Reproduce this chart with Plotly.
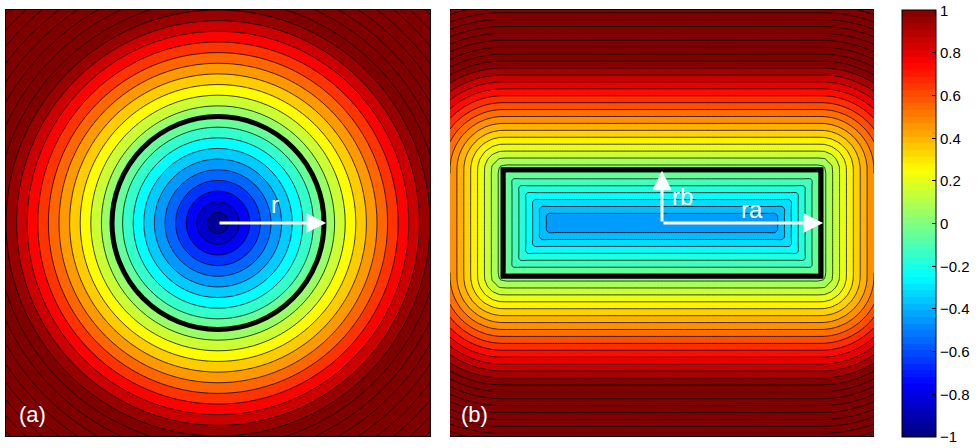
import numpy as np
import plotly.graph_objects as go

# ---------------- data / parameters (panel units span [-1, 1]) ----------------
grid_n = 61
circle_center = [0.0, 0.0]
circle_radius = 0.5
rect_half_a = 0.75   # ra
rect_half_b = 0.25   # rb
field_scale = 2.0

levels_a = [-0.9, 1.8, 0.1]      # start, end, step
levels_b = [-0.41, 1.6, 0.065]

cbar_tickvals = [-1, -0.8, -0.6, -0.4, -0.2, 0, 0.2, 0.4, 0.6, 0.8, 1]
cbar_ticktext = ["\u22121", "\u22120.8", "\u22120.6", "\u22120.4", "\u22120.2", "0",
                 "0.2", "0.4", "0.6", "0.8", "1"]
panel_labels = ["(a)", "(b)"]
arrow_labels = ["r", "rb", "ra"]

W, H = 979, 448
CB_LEFT, CB_W, CB_TOP, CB_BOT = 902, 34, 10, 437


def jet(t):
    t = float(np.clip(t, 0, 1))
    r = np.clip(1.5 - abs(4 * t - 3), 0, 1)
    g = np.clip(1.5 - abs(4 * t - 2), 0, 1)
    b = np.clip(1.5 - abs(4 * t - 1), 0, 1)
    return "rgb(%d,%d,%d)" % (round(r * 255), round(g * 255), round(b * 255))


def fill_colorscale(start, end, step, k=201):
    nc = int(np.floor((end - start) / step + 1e-6)) + 1
    lo = start - step / 2
    hi = start + (nc - 0.5) * step
    return [[s, jet((lo + s * (hi - lo) + 1) / 2)] for s in np.linspace(0, 1, k)]


xs = np.linspace(-1, 1, grid_n)
ys = np.linspace(-1, 1, grid_n)
X, Y = np.meshgrid(xs, ys)

# panel (a): circle signed distance
Ra = np.sqrt((X - circle_center[0]) ** 2 + (Y - circle_center[1]) ** 2)
Za = field_scale * (Ra - circle_radius)

# panel (b): rectangle signed distance
qx = np.abs(X) - rect_half_a
qy = np.abs(Y) - rect_half_b
outside = np.sqrt(np.maximum(qx, 0) ** 2 + np.maximum(qy, 0) ** 2)
inside = np.minimum(np.maximum(qx, qy), 0)
Zb = field_scale * (outside + inside)

fig = go.Figure()

fig.add_trace(go.Contour(
    x=xs, y=ys, z=Za, xaxis="x", yaxis="y",
    autocontour=False,
    contours=dict(start=levels_a[0], end=levels_a[1], size=levels_a[2],
                  coloring="fill", showlines=True),
    colorscale=fill_colorscale(*levels_a),
    line=dict(color="black", width=0.75, smoothing=1),
    showscale=False, hoverinfo="skip",
))

fig.add_trace(go.Contour(
    x=xs, y=ys, z=Zb, xaxis="x2", yaxis="y2",
    autocontour=False,
    contours=dict(start=levels_b[0], end=levels_b[1], size=levels_b[2],
                  coloring="fill", showlines=True),
    colorscale=fill_colorscale(*levels_b),
    line=dict(color="black", width=0.75, smoothing=0.6),
    showscale=False, hoverinfo="skip",
))

# colorbar: discrete 64-step jet
ncol = 64
cb_scale = []
for i in range(ncol):
    c = jet((i + 0.5) / ncol)
    cb_scale.append([i / ncol, c])
    cb_scale.append([(i + 1) / ncol, c])

fig.add_trace(go.Scatter(
    x=[0], y=[0], xaxis="x2", yaxis="y2", mode="markers",
    marker=dict(size=0.1, opacity=0, color=[0], cmin=-1, cmax=1,
                colorscale=cb_scale, showscale=True,
                colorbar=dict(
                    x=CB_LEFT / W, xanchor="left", xpad=0,
                    y=1 - CB_TOP / H, yanchor="top", ypad=0,
                    len=(CB_BOT - CB_TOP) / H, lenmode="fraction",
                    thickness=CB_W, thicknessmode="pixels",
                    tickvals=cbar_tickvals, showticklabels=False,
                    ticks="inside", ticklen=4, tickcolor="black",
                    outlinecolor="black", outlinewidth=1,
                )),
    hoverinfo="skip", showlegend=False,
))

axis_common = dict(range=[-1, 1], showticklabels=False, ticks="", showgrid=False,
                   zeroline=False, showline=True, mirror=True, linecolor="black",
                   linewidth=1)

ydom = [1 - 436 / H, 1 - 10 / H]
fig.update_layout(
    width=W, height=H,
    margin=dict(l=0, r=0, t=0, b=0, autoexpand=False),
    paper_bgcolor="white", plot_bgcolor="white",
    showlegend=False,
    xaxis=dict(domain=[6 / W, 430 / W], **axis_common),
    yaxis=dict(domain=ydom, **axis_common),
    xaxis2=dict(domain=[450 / W, 874 / W], **axis_common),
    yaxis2=dict(domain=ydom, **axis_common),
)

# colorbar tick labels placed precisely, plus left-side tick marks
for v, t in zip(cbar_tickvals, cbar_ticktext):
    ypix = CB_BOT - (v + 1) / 2 * (CB_BOT - CB_TOP)
    ylab = min(ypix, CB_BOT - 1)
    fig.add_annotation(x=(CB_LEFT + CB_W + 3) / W, y=1 - ylab / H, xref="paper", yref="paper",
                       xanchor="left", yanchor="middle", text=t, showarrow=False,
                       borderpad=0,
                       font=dict(family="Liberation Sans, Arial, sans-serif", size=15,
                                 color="black"))
    if -1 < v < 1:
        fig.add_shape(type="line", xref="paper", yref="paper",
                      x0=CB_LEFT / W, x1=(CB_LEFT + 4) / W,
                      y0=1 - ypix / H, y1=1 - ypix / H,
                      line=dict(color="black", width=1))

# thick boundaries
fig.add_shape(type="circle", xref="x", yref="y",
              x0=circle_center[0] - circle_radius, x1=circle_center[0] + circle_radius,
              y0=circle_center[1] - circle_radius, y1=circle_center[1] + circle_radius,
              line=dict(color="black", width=5))
fig.add_shape(type="rect", xref="x2", yref="y2",
              x0=-rect_half_a, x1=rect_half_a, y0=-rect_half_b, y1=rect_half_b,
              line=dict(color="black", width=5))

label_font = dict(family="Liberation Sans, Arial, sans-serif", size=24, color="white")


def arrow(xref, yref, x0, y0, x1, y1):
    fig.add_annotation(x=x1, y=y1, ax=x0, ay=y0, xref=xref, yref=yref,
                       axref=xref, ayref=yref, text="", showarrow=True,
                       arrowhead=2, arrowsize=1.3, arrowwidth=3,
                       arrowcolor="white", standoff=0, startstandoff=0)


# panel (a) arrow r
arrow("x", "y", circle_center[0], circle_center[1],
      circle_center[0] + circle_radius + 0.01, circle_center[1])
fig.add_annotation(x=0.27, y=0.085, xref="x", yref="y", text=arrow_labels[0],
                   showarrow=False, font=label_font)

# panel (b) arrows rb, ra
arrow("x2", "y2", 0, 0, 0, rect_half_b - 0.005)
arrow("x2", "y2", 0, 0, rect_half_a + 0.01, 0)
fig.add_annotation(x=0.095, y=0.125, xref="x2", yref="y2", text=arrow_labels[1],
                   showarrow=False, font=label_font)
fig.add_annotation(x=0.425, y=0.065, xref="x2", yref="y2", text=arrow_labels[2],
                   showarrow=False, font=label_font)

# panel letters
fig.add_annotation(x=-0.875, y=-0.9, xref="x", yref="y", text=panel_labels[0],
                   showarrow=False, font=dict(label_font, size=22))
fig.add_annotation(x=-0.885, y=-0.9, xref="x2", yref="y2", text=panel_labels[1],
                   showarrow=False, font=dict(label_font, size=22))

fig.write_html("out.html",
               config={"displayModeBar": False},
               post_script="document.body.style.margin='0px';"
                           "document.body.style.overflow='hidden';")
